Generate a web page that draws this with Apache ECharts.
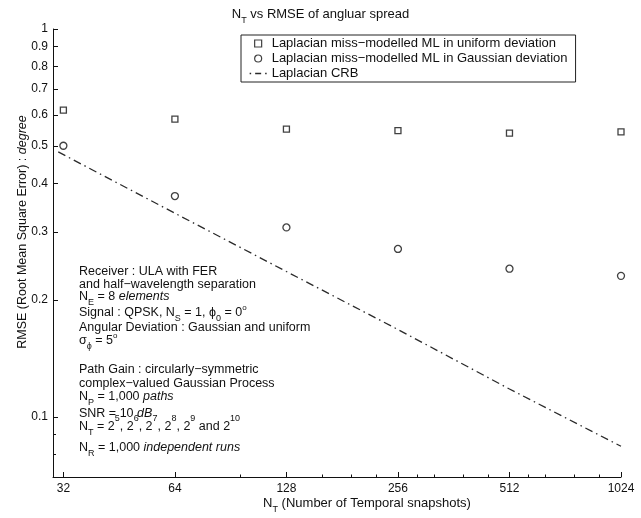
<!DOCTYPE html>
<html>
<head>
<meta charset="utf-8">
<script src="https://cdn.jsdelivr.net/npm/echarts@6/dist/echarts.min.js"></script>
<style>
  html, body { margin: 0; padding: 0; background: #ffffff; }
  #chart { width: 641px; height: 518px; }
</style>
</head>
<body>
<div id="chart"></div>
<script>
// Number of temporal snapshots and the RMSE values (degrees) at each
const snapshots = [32, 64, 128, 256, 512, 1024];
const rmseUniform = [0.618, 0.586, 0.552, 0.547, 0.539, 0.543];
const rmseGaussian = [0.500, 0.371, 0.308, 0.271, 0.241, 0.231];
// Cramer-Rao bound curve
const crbSnapshots = [31, 64, 128, 256, 512, 1024];
const crbValues = [0.482, 0.335, 0.237, 0.168, 0.118, 0.084];

// Tick positions
const xTickLabels = [32, 64, 128, 256, 512, 1024];
const xMinorTicks = [96, 160, 192, 224, 288, 320, 384, 448, 576, 640, 768, 896];
const yTickLabels = [0.1, 0.2, 0.3, 0.4, 0.5, 0.6, 0.7, 0.8, 0.9, 1];
const yMinorTicks = [0.08, 0.09];

const seriesNames = [
  'Laplacian miss\u2212modelled ML in uniform deviation',
  'Laplacian miss\u2212modelled ML in Gaussian deviation',
  'Laplacian CRB'
];

// Simulation settings printed inside the plot
const noteLines = [
  '{r|Receiver : ULA with FER}',
  '{r|and half\u2212wavelength separation}',
  '{r|N}{sb|E}{r| = 8 }{i|elements}',
  '{r|Signal : QPSK, N}{sb|S}{r| = 1, \u03d5}{sb|0}{r| = 0}{dg|o}',
  '{r|Angular Deviation : Gaussian and uniform}',
  '{r|\u03c3}{sb|\u03d5}{r| = 5}{dg|o}',
  '{r|Path Gain : circularly\u2212symmetric}',
  '{r|complex\u2212valued Gaussian Process}',
  '{r|N}{sb|P}{r| = 1,000 }{i|paths}',
  '{r|SNR = 10 }{i|dB}',
  '{r|N}{sb|T}{r| = 2}{sp|5}{r|, 2}{sp|6}{r|, 2}{sp|7}{r|, 2}{sp|8}{r|, 2}{sp|9}{r| and 2}{sp|10}',
  '{r|N}{sb|R}{r| = 1,000 }{i|independent runs}'
];
const noteY = [271.5, 285, 296.5, 312.5, 328, 341, 370, 383.5, 396.5, 414, 427, 448];

const FONT = "'Liberation Sans', Arial, Helvetica, sans-serif";
const INK = '#111111';

function richSet(size) {
  const base = { fontFamily: FONT, color: INK, fontWeight: 'normal', verticalAlign: 'middle' };
  return {
    r:  Object.assign({}, base, { fontSize: size }),
    i:  Object.assign({}, base, { fontSize: size, fontStyle: 'italic' }),
    sb: Object.assign({}, base, { fontSize: 9, padding: [12, 0, 0, 0] }),
    sp: Object.assign({}, base, { fontSize: 9, padding: [0, 0, 16, 0] }),
    dg: Object.assign({}, base, { fontSize: 8, padding: [0, 0, 10, 0] })
  };
}

const fmt = v => String(Math.round(v * 1000) / 1000);

const chart = echarts.init(document.getElementById('chart'), null, { renderer: 'canvas' });

const option = {
  backgroundColor: '#ffffff',
  animation: false,
  title: {
    text: '{r|N}{sb|T}{r| vs RMSE of angluar spread}',
    left: 'center',
    top: 4,
    padding: 0,
    textStyle: { rich: richSet(13), fontSize: 13, fontWeight: 'normal', fontFamily: FONT, color: INK }
  },
  legend: {
    orient: 'vertical',
    left: 241,
    top: 35,
    padding: [2, 8, 2, 8],
    itemGap: 2,
    itemWidth: 17,
    itemHeight: 7,
    itemTextGap: 14,
    borderColor: '#222',
    borderWidth: 1,
    borderRadius: 0,
    backgroundColor: '#ffffff',
    textStyle: { fontSize: 13, fontFamily: FONT, color: INK },
    data: [
      { name: seriesNames[0], icon: 'path://M0,0H10V10H0Z',
        itemStyle: { color: '#ffffff', borderColor: INK, borderWidth: 1.2 } },
      { name: seriesNames[1], icon: 'circle',
        itemStyle: { color: '#ffffff', borderColor: INK, borderWidth: 1.2 } },
      { name: seriesNames[2],
        itemStyle: { color: 'rgba(0,0,0,0)', borderColor: 'rgba(0,0,0,0)', borderWidth: 0, opacity: 0 },
        lineStyle: { color: '#2a2a2a', width: 1.3, type: [1.5, 4, 6, 4] } }
    ]
  },
  grid: { left: 53, right: 20, top: 29, bottom: 41, outerBoundsMode: 'none' },
  xAxis: [
    {
      type: 'log', logBase: 2, min: 30, max: 1024,
      position: 'bottom',
      axisLine: { lineStyle: { color: INK, width: 1 } },
      axisTick: { inside: true, length: 5, customValues: xTickLabels, lineStyle: { color: INK, width: 1 } },
      axisLabel: { customValues: xTickLabels, formatter: fmt, margin: 6, fontSize: 12, fontFamily: FONT, color: INK },
      splitLine: { show: false },
      minorTick: { show: false },
      name: '{r|N}{sb|T}{r| (Number of Temporal snapshots)}',
      nameLocation: 'middle',
      nameGap: 16,
      nameMoveOverlap: false,
      nameTextStyle: { rich: richSet(13), fontSize: 13, fontFamily: FONT, color: INK, padding: [0, 0, 0, 60] }
    },
    {
      type: 'log', logBase: 2, min: 30, max: 1024,
      position: 'bottom',
      axisLine: { show: false },
      axisTick: { inside: true, length: 2.5, customValues: xMinorTicks, lineStyle: { color: INK, width: 1 } },
      axisLabel: { show: false },
      splitLine: { show: false }
    }
  ],
  yAxis: [
    {
      type: 'log', logBase: 10, min: 0.07, max: 1,
      position: 'left',
      axisLine: { lineStyle: { color: INK, width: 1 } },
      axisTick: { inside: true, length: 5, customValues: yTickLabels, lineStyle: { color: INK, width: 1 } },
      axisLabel: { customValues: yTickLabels, formatter: fmt, margin: 5, fontSize: 12, fontFamily: FONT, color: INK },
      splitLine: { show: false },
      name: 'RMSE (Root Mean Square Error) : {i|degree}',
      nameLocation: 'middle',
      nameGap: 24,
      nameMoveOverlap: false,
      nameTextStyle: { rich: richSet(12.5), fontSize: 12.5, fontFamily: FONT, color: INK, padding: [0, 0, 0, 42] }
    },
    {
      type: 'log', logBase: 10, min: 0.07, max: 1,
      position: 'left',
      axisLine: { show: false },
      axisTick: { inside: true, length: 3, customValues: yMinorTicks, lineStyle: { color: INK, width: 1 } },
      axisLabel: { show: false },
      splitLine: { show: false }
    }
  ],
  series: [
    {
      name: seriesNames[0],
      type: 'scatter',
      xAxisIndex: 0, yAxisIndex: 0,
      symbol: 'rect',
      symbolSize: 6,
      itemStyle: { color: '#ffffff', borderColor: INK, borderWidth: 1.3 },
      data: snapshots.map((n, k) => [n, rmseUniform[k]])
    },
    {
      name: seriesNames[1],
      type: 'scatter',
      xAxisIndex: 0, yAxisIndex: 0,
      symbol: 'circle',
      symbolSize: 7,
      itemStyle: { color: '#ffffff', borderColor: INK, borderWidth: 1.3 },
      data: snapshots.map((n, k) => [n, rmseGaussian[k]])
    },
    {
      name: seriesNames[2],
      type: 'line',
      xAxisIndex: 0, yAxisIndex: 0,
      symbol: 'none',
      lineStyle: { color: '#2a2a2a', width: 1.3, type: [8, 4, 1.5, 4] },
      itemStyle: { color: '#2a2a2a' },
      data: crbSnapshots.map((n, k) => [n, crbValues[k]])
    }
  ],
  graphic: noteLines.map((txt, k) => ({
    type: 'text',
    x: 79,
    y: noteY[k],
    silent: true,
    style: {
      text: txt,
      rich: richSet(12.5),
      fontSize: 12.5,
      fontFamily: FONT,
      fill: INK,
      align: 'left',
      verticalAlign: 'middle'
    }
  }))
};

chart.setOption(option);
</script>
</body>
</html>
